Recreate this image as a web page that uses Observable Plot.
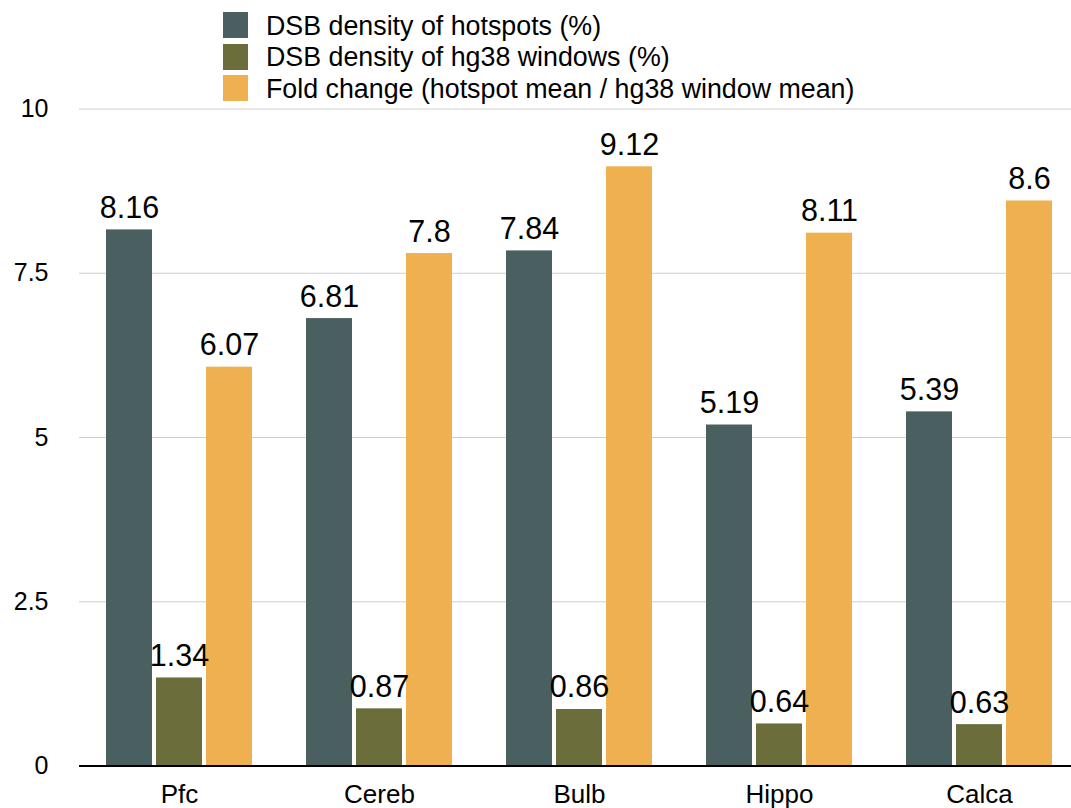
<!DOCTYPE html>
<html>
<head>
<meta charset="utf-8">
<script src="https://cdn.jsdelivr.net/npm/d3@7"></script>
<script src="https://cdn.jsdelivr.net/npm/@observablehq/plot@0.6"></script>
<style>
  body { margin: 0; background: #fff; font-family: "Liberation Sans", Arial, Helvetica, sans-serif; }
  #wrap { width: 1071px; }
  #legend { position: relative; height: 90px; }
  .swatch { position: absolute; left: 223px; width: 25px; height: 26px; }
  .key { position: absolute; left: 266px; font-size: 26.8px; line-height: 26px; color: #000; white-space: nowrap; }
  svg { overflow: visible; }
</style>
</head>
<body>
<div id="wrap">
  <div id="legend"></div>
  <div id="chart"></div>
</div>
<script>
// Brain regions along the x axis
const regions = ["Pfc", "Cereb", "Bulb", "Hippo", "Calca"];

// Series values, one per region
const hotspotDensity = [8.16, 6.81, 7.84, 5.19, 5.39];
const windowDensity = [1.34, 0.87, 0.86, 0.64, 0.63];
const foldChange = [6.07, 7.8, 9.12, 8.11, 8.6];

const seriesNames = [
  "DSB density of hotspots (%)",
  "DSB density of hg38 windows (%)",
  "Fold change (hotspot mean / hg38 window mean)"
];
const seriesColors = ["#4a5f60", "#6b6e3a", "#efb14f"];

const yTicks = [0, 2.5, 5, 7.5, 10];

// Long-format table for the grouped bars
const seriesValues = [hotspotDensity, windowDensity, foldChange];
const rows = [];
regions.forEach((region, i) => {
  seriesNames.forEach((name, s) => {
    rows.push({region, series: name, value: seriesValues[s][i]});
  });
});

// Legend
const legend = document.getElementById("legend");
const legendTops = [12, 43.5, 75];
seriesNames.forEach((name, s) => {
  const sw = document.createElement("div");
  sw.className = "swatch";
  sw.style.top = legendTops[s] + "px";
  sw.style.background = seriesColors[s];
  legend.appendChild(sw);
  const key = document.createElement("div");
  key.className = "key";
  key.style.top = (legendTops[s] + 0.5) + "px";
  key.textContent = name;
  legend.appendChild(key);
});

const chart = Plot.plot({
  width: 1071,
  height: 718,
  marginTop: 18.5,
  marginBottom: 42.5,
  marginLeft: 79,
  marginRight: -8,
  style: {fontFamily: "'Liberation Sans', Arial, Helvetica, sans-serif", background: "#fff", color: "#000"},
  fx: {domain: regions, padding: 0, label: null, axis: null},
  x: {domain: seriesNames, paddingInner: 0.08, paddingOuter: 0.54, axis: null},
  y: {domain: [0, 10], axis: null},
  color: {domain: seriesNames, range: seriesColors},
  marks: [
    Plot.ruleY(yTicks.filter(d => d > 0), {stroke: "#cfcfcf", strokeWidth: 1.2}),
    Plot.barY(rows, {fx: "region", x: "series", y: "value", fill: "series"}),
    Plot.text(rows, {
      fx: "region", x: "series", y: "value",
      text: d => String(d.value),
      lineAnchor: "bottom", dy: -12,
      fontSize: 30.5, fill: "#000"
    }),
    Plot.ruleY([0], {stroke: "#000", strokeWidth: 2}),
    Plot.axisY({ticks: yTicks, tickSize: 0, tickPadding: 31, fontSize: 25, label: null, tickFormat: d => String(d)}),
    Plot.axisFx({anchor: "bottom", tickSize: 0, tickPadding: 19, fontSize: 26, label: null})
  ]
});
document.getElementById("chart").appendChild(chart);
</script>
</body>
</html>
